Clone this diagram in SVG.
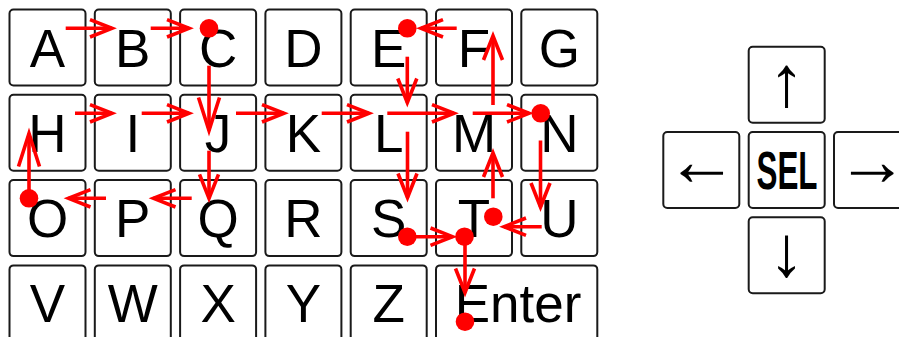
<svg xmlns="http://www.w3.org/2000/svg" width="899" height="337" viewBox="0 0 899 337">
<style>
.k rect{fill:#fff;stroke:#1a1a1a;stroke-width:2}
.k text{font-family:"Liberation Sans",Arial,sans-serif;font-size:53px;fill:#000;text-anchor:middle}
.k text.ar{font-size:72px}
.c line{stroke:#f00;stroke-width:3.6;fill:none}
.c circle{fill:#f00}
.k text.sel{font-weight:bold;font-family:"Liberation Sans Narrow","Liberation Sans",Arial,sans-serif}
</style>
<defs>
<marker id="hs" markerUnits="userSpaceOnUse" orient="auto" overflow="visible" markerWidth="1" markerHeight="1" refX="0" refY="0">
<path d="M-22,-8.7 L0,0 L-22,8.7" fill="none" stroke="#f00" stroke-width="3.6"/>
</marker>
<marker id="hv" markerUnits="userSpaceOnUse" orient="auto" overflow="visible" markerWidth="1" markerHeight="1" refX="0" refY="0">
<path d="M-24,-9.5 L0,0 L-24,9.5" fill="none" stroke="#f00" stroke-width="3.6"/>
</marker>
<marker id="hl" markerUnits="userSpaceOnUse" orient="auto" overflow="visible" markerWidth="1" markerHeight="1" refX="0" refY="0">
<path d="M-33,-10.5 L0,0 L-33,10.5" fill="none" stroke="#f00" stroke-width="3.6"/>
</marker>
</defs>

<g id="key-A" class="k"><rect x="9.5" y="9.5" width="76" height="76" rx="4"/><text x="47.5" y="66.5">A</text></g>
<g id="key-B" class="k"><rect x="94.8" y="9.5" width="76" height="76" rx="4"/><text x="132.8" y="66.5">B</text></g>
<g id="key-C" class="k"><rect x="180.1" y="9.5" width="76" height="76" rx="4"/><text x="218.1" y="66.5">C</text></g>
<g id="key-D" class="k"><rect x="265.4" y="9.5" width="76" height="76" rx="4"/><text x="303.4" y="66.5">D</text></g>
<g id="key-E" class="k"><rect x="350.7" y="9.5" width="76" height="76" rx="4"/><text x="388.7" y="66.5">E</text></g>
<g id="key-F" class="k"><rect x="436" y="9.5" width="76" height="76" rx="4"/><text x="474" y="66.5">F</text></g>
<g id="key-G" class="k"><rect x="521.3" y="9.5" width="76" height="76" rx="4"/><text x="559.3" y="66.5">G</text></g>

<g id="key-H" class="k"><rect x="9.5" y="94.8" width="76" height="76" rx="4"/><text x="47.5" y="151.8">H</text></g>
<g id="key-I" class="k"><rect x="94.8" y="94.8" width="76" height="76" rx="4"/><text x="132.8" y="151.8">I</text></g>
<g id="key-J" class="k"><rect x="180.1" y="94.8" width="76" height="76" rx="4"/><text x="218.1" y="151.8">J</text></g>
<g id="key-K" class="k"><rect x="265.4" y="94.8" width="76" height="76" rx="4"/><text x="303.4" y="151.8">K</text></g>
<g id="key-L" class="k"><rect x="350.7" y="94.8" width="76" height="76" rx="4"/><text x="388.7" y="151.8">L</text></g>
<g id="key-M" class="k"><rect x="436" y="94.8" width="76" height="76" rx="4"/><text x="474" y="151.8">M</text></g>
<g id="key-N" class="k"><rect x="521.3" y="94.8" width="76" height="76" rx="4"/><text x="559.3" y="151.8">N</text></g>

<g id="key-O" class="k"><rect x="9.5" y="180.1" width="76" height="76" rx="4"/><text x="47.5" y="237.1">O</text></g>
<g id="key-P" class="k"><rect x="94.8" y="180.1" width="76" height="76" rx="4"/><text x="132.8" y="237.1">P</text></g>
<g id="key-Q" class="k"><rect x="180.1" y="180.1" width="76" height="76" rx="4"/><text x="218.1" y="237.1">Q</text></g>
<g id="key-R" class="k"><rect x="265.4" y="180.1" width="76" height="76" rx="4"/><text x="303.4" y="237.1">R</text></g>
<g id="key-S" class="k"><rect x="350.7" y="180.1" width="76" height="76" rx="4"/><text x="388.7" y="237.1">S</text></g>
<g id="key-T" class="k"><rect x="436" y="180.1" width="76" height="76" rx="4"/><text x="474" y="237.1">T</text></g>
<g id="key-U" class="k"><rect x="521.3" y="180.1" width="76" height="76" rx="4"/><text x="559.3" y="237.1">U</text></g>

<g id="key-V" class="k"><rect x="9.5" y="265.4" width="76" height="76" rx="4"/><text x="47.5" y="322.4">V</text></g>
<g id="key-W" class="k"><rect x="94.8" y="265.4" width="76" height="76" rx="4"/><text x="132.8" y="322.4">W</text></g>
<g id="key-X" class="k"><rect x="180.1" y="265.4" width="76" height="76" rx="4"/><text x="218.1" y="322.4">X</text></g>
<g id="key-Y" class="k"><rect x="265.4" y="265.4" width="76" height="76" rx="4"/><text x="303.4" y="322.4">Y</text></g>
<g id="key-Z" class="k"><rect x="350.7" y="265.4" width="76" height="76" rx="4"/><text x="388.7" y="322.4">Z</text></g>
<g id="key-Enter" class="k"><rect x="436" y="265.4" width="161.3" height="76" rx="4"/><text x="518" y="322.4">Enter</text></g>

<g id="key-up" class="k"><rect x="748.7" y="46.7" width="76" height="76" rx="4"/><text class="ar" x="786.7" y="106">↑</text></g>
<g id="key-left" class="k"><rect x="663.3" y="132" width="76" height="76" rx="4"/><text class="ar" x="701.5" y="184.5">←</text></g>
<g id="key-sel" class="k"><rect x="748.7" y="132" width="76" height="76" rx="4"/><text class="sel" x="787" y="189.3" textLength="61" lengthAdjust="spacingAndGlyphs">SEL</text></g>
<g id="key-right" class="k"><rect x="834" y="132" width="76" height="76" rx="4"/><text class="ar" x="872" y="184.5">→</text></g>
<g id="key-down" class="k"><rect x="748.7" y="217.3" width="76" height="76" rx="4"/><text class="ar" x="786.7" y="275.5">↓</text></g>

<g id="connectors" class="c">
<line x1="65.7" y1="28.3" x2="112" y2="28.3" marker-end="url(#hs)"/>
<line x1="150.7" y1="28.3" x2="189" y2="28.3" marker-end="url(#hs)"/>
<line x1="456.7" y1="28.3" x2="421" y2="28.3" marker-end="url(#hs)"/>
<line x1="75" y1="113.3" x2="112" y2="113.3" marker-end="url(#hs)"/>
<line x1="141.7" y1="113.3" x2="189" y2="113.3" marker-end="url(#hs)"/>
<line x1="236" y1="113.3" x2="284" y2="113.3" marker-end="url(#hs)"/>
<line x1="321.7" y1="113.3" x2="369" y2="113.3" marker-end="url(#hs)"/>
<line x1="387.3" y1="113.3" x2="454" y2="113.3" marker-end="url(#hs)"/>
<line x1="472.7" y1="113.3" x2="529" y2="113.3" marker-end="url(#hs)"/>
<line x1="191.7" y1="198.3" x2="153.5" y2="198.3" marker-end="url(#hs)"/>
<line x1="106" y1="198.3" x2="68.5" y2="198.3" marker-end="url(#hs)"/>
<line x1="541.7" y1="226.7" x2="504" y2="226.7" marker-end="url(#hs)"/>
<line x1="407.3" y1="236.7" x2="452.5" y2="236.7" marker-end="url(#hs)"/>

<line x1="407.3" y1="56.7" x2="407.3" y2="102.5" marker-end="url(#hv)"/>
<line x1="493" y1="105" x2="493" y2="36" marker-end="url(#hv)"/>
<line x1="407.5" y1="131.7" x2="407.5" y2="197.5" marker-end="url(#hv)"/>
<line x1="540.5" y1="140.5" x2="540.5" y2="207" marker-end="url(#hv)"/>
<line x1="493" y1="198.3" x2="493" y2="153" marker-end="url(#hv)"/>
<line x1="465" y1="236.7" x2="465" y2="292.5" marker-end="url(#hv)"/>
<line x1="209" y1="150.7" x2="209" y2="198.3" marker-end="url(#hv)"/>

<line x1="209" y1="65.7" x2="209" y2="130.5" marker-end="url(#hl)"/>
<line x1="29" y1="198.3" x2="29" y2="133.5" marker-end="url(#hl)"/>

<circle cx="209" cy="28.3" r="9.3"/>
<circle cx="407.3" cy="28.3" r="9.3"/>
<circle cx="540.7" cy="113.3" r="9.3"/>
<circle cx="29" cy="198.3" r="9.3"/>
<circle cx="493.3" cy="216.7" r="9.3"/>
<circle cx="407.3" cy="236.7" r="9.3"/>
<circle cx="464.5" cy="236.7" r="9.3"/>
<circle cx="465" cy="321.7" r="9.3"/>
</g>
</svg>
